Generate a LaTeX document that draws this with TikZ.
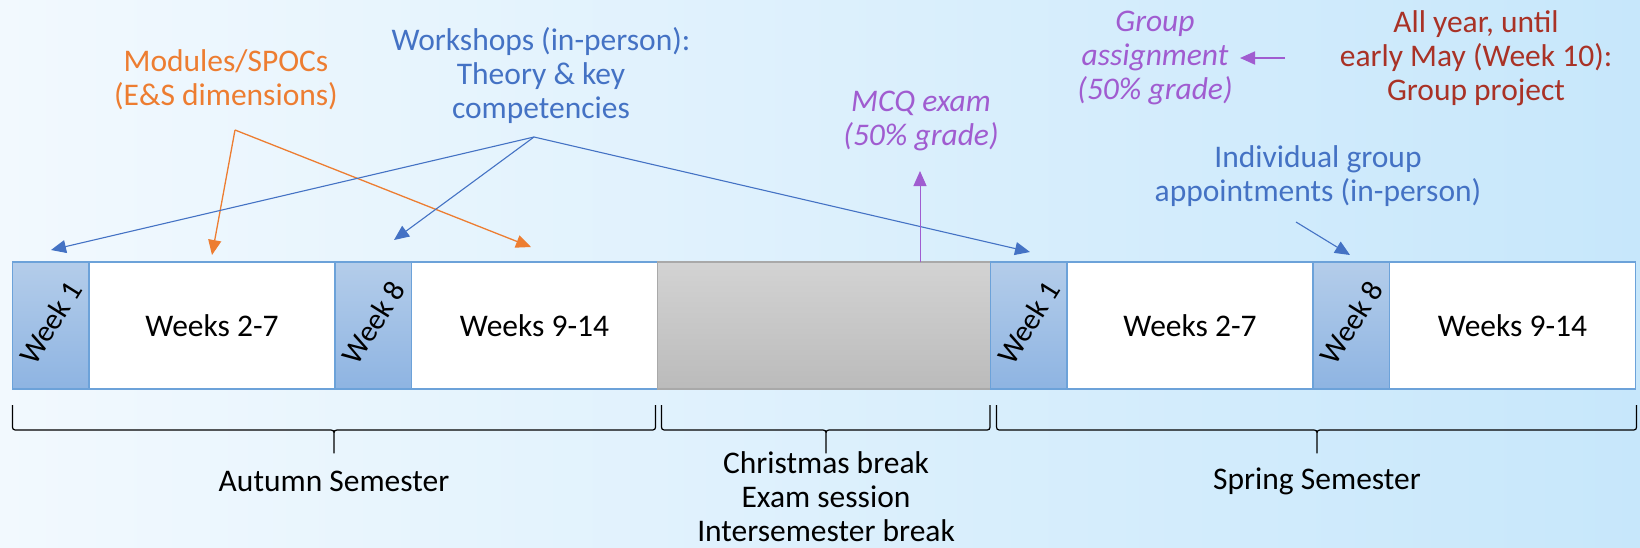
\documentclass[tikz,border=0pt]{standalone}
\usepackage{fontspec}
\setmainfont{Carlito}
\usetikzlibrary{arrows.meta,positioning}

\definecolor{bgleft}{HTML}{F2F9FE}
\definecolor{bgright}{HTML}{C7E7FB}
\definecolor{wktop}{HTML}{B4CDEA}
\definecolor{wkbot}{HTML}{8EB4E2}
\definecolor{boxline}{HTML}{6CA2D9}
\definecolor{gaptop}{HTML}{D3D3D3}
\definecolor{gapbot}{HTML}{BBBBBB}
\definecolor{gapline}{HTML}{A9A9A9}
\definecolor{modcol}{HTML}{ED7D31}
\definecolor{wscol}{HTML}{4472C4}
\definecolor{gradecol}{HTML}{A05CD0}
\definecolor{projcol}{HTML}{A93226}

\begin{document}
\begin{tikzpicture}[x=1pt, y=-1pt,
    every node/.style={font=\fontsize{31.5}{34}\selectfont, align=center, inner sep=0pt},
    itl/.style={font=\fontsize{31.5}{34}\selectfont\itshape},
    wkbox/.style={draw=boxline, line width=1.5pt, top color=wktop, bottom color=wkbot,
      minimum width=76.5pt, minimum height=127pt, outer sep=0pt},
    wksbox/.style={draw=boxline, line width=1.5pt, fill=white,
      minimum width=246pt, minimum height=127pt, outer sep=0pt},
    gapbox/.style={draw=gapline, line width=1.5pt, top color=gaptop, bottom color=gapbot,
      minimum width=333pt, minimum height=127pt, outer sep=0pt},
    wklbl/.style={font=\fontsize{30}{32}\selectfont, rotate=58},
    arr/.style={line width=1.3pt, -{Triangle[length=15pt, width=13pt]}},
  ]
  \useasboundingbox (0,0) rectangle (1640,547);
  \shade[left color=bgleft, right color=bgright] (0,0) rectangle (1640,547);

  % the weeks of both semesters
  \node[wkbox, anchor=west] (aw1) at (12.5,325.5) {};
  \node[wksbox, right=0pt of aw1] (a27) {Weeks 2-7};
  \node[wkbox, right=0pt of a27] (aw8) {};
  \node[wksbox, right=0pt of aw8] (a914) {Weeks 9-14};
  \node[gapbox, right=0pt of a914] (gap) {};
  \node[wkbox, right=0pt of gap] (sw1) {};
  \node[wksbox, right=0pt of sw1] (s27) {Weeks 2-7};
  \node[wkbox, right=0pt of s27] (sw8) {};
  \node[wksbox, right=0pt of sw8] (s914) {Weeks 9-14};
  \foreach \b/\w in {aw1/1, aw8/8, sw1/1, sw8/8}
    \node[wklbl] (\b-lbl) at ([yshift=3pt]\b.center) {Week \w};

  % braces under the row
  \foreach \a/\m/\b in {12.5/334/655.5, 661.5/826/990, 996.5/1317/1636.5}
    \draw[line width=1.2pt, line join=round]
      (\a,405) -- (\a,424) .. controls (\a,430) .. ({\a+6},430) -- ({\m-6},430)
      .. controls (\m,430) .. (\m,436) -- (\m,453) -- (\m,436)
      .. controls (\m,430) .. ({\m+6},430) -- ({\b-6},430)
      .. controls (\b,430) .. (\b,424) -- (\b,405);
  \node (autumn) at (334,481) {Autumn Semester};
  \node (xmas) at (826,497) {Christmas break\\Exam session\\Intersemester break};
  \node (spring) at (1317,481) {Spring Semester};

  % labels above
  \node[text=modcol] (modules) at (226,80) {Modules/SPOCs\\(E\&S dimensions)};
  \node[text=wscol] (workshops) at (541,76) {Workshops (in-person):\\Theory \& key\\competencies};
  \node[itl, text=gradecol] (mcq) at (921,121) {MCQ exam\\(50\% grade)};
  \node[itl, text=gradecol] (assign) at (1155,58) {Group\\assignment\\(50\% grade)};
  \node[text=projcol] (project) at (1476,58) {All year, until\\early May (Week 10):\\Group project};
  \node[text=wscol] (appoint) at (1318,176) {Individual group\\appointments (in-person)};

  % arrows
  \coordinate (modsrc) at (235,130);
  \coordinate (modtip1) at (212,255);
  \coordinate (modtip2) at (531,247);
  \coordinate (wssrc) at (534,137);
  \coordinate (wstip1) at (51,250);
  \coordinate (wstip2) at (394,240);
  \coordinate (wstip3) at (1030,252);
  \coordinate (mcqtip) at (920,171);
  \coordinate (projsrc) at (1285,58);
  \coordinate (asgtip) at (1240,58);
  \coordinate (appsrc) at (1296,222);
  \coordinate (apptip) at (1350,255);
  \draw[arr, modcol] (modsrc) -- (modtip1);
  \draw[arr, modcol] (modsrc) -- (modtip2);
  \foreach \t in {wstip1, wstip2, wstip3}
    \draw[arr, wscol, line width=1.1pt] (wssrc) -- (\t);
  \draw[arr, gradecol, line width=1pt] (gap.north -| mcqtip) -- (mcqtip);
  \draw[arr, gradecol, line width=1.8pt] (projsrc) -- (asgtip);
  \draw[arr, wscol, line width=1.1pt] (appsrc) -- (apptip);
\end{tikzpicture}
\end{document}
